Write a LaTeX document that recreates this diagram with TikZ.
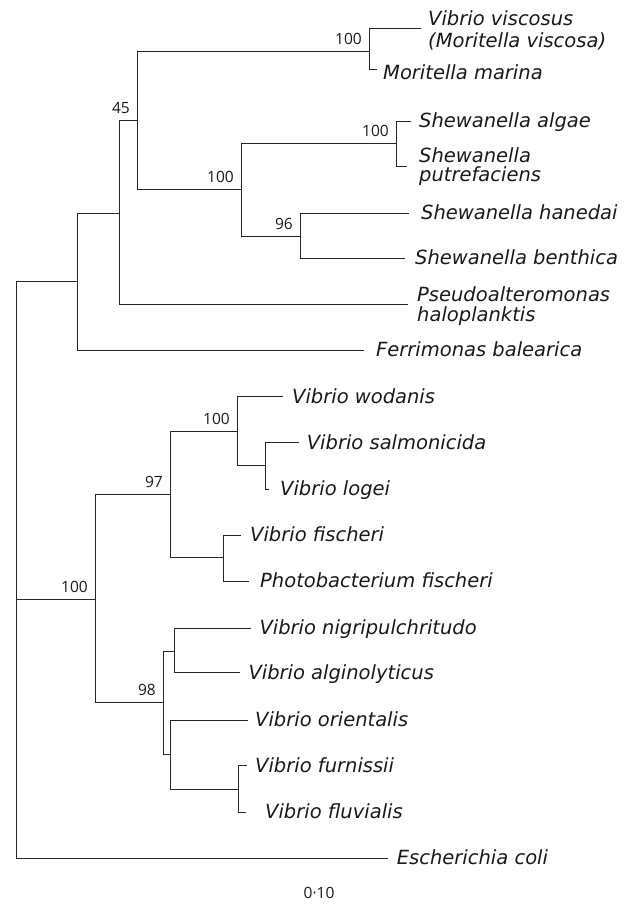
\documentclass[tikz,border=0pt]{standalone}
\usepackage{fontspec}
\setmainfont{Open Sans}
\newfontfamily\leaffont{DejaVu Sans}
\begin{document}
\begin{tikzpicture}[x=1pt,y=-1pt,
  branch/.style={line width=1.4pt, draw=black!85},
  leaf/.style={anchor=base west, inner sep=0pt, text=black!90, font=\leaffont\itshape\fontsize{19.5}{22}\selectfont},
  boot/.style={anchor=base east, inner sep=0pt, text=black!90, font=\fontsize{15.5}{18}\selectfont}]
\useasboundingbox (0,0) rectangle (636,904);
% internal nodes
\coordinate (R) at (16.5,599.5);
\coordinate (A) at (77.5,281.5);
\coordinate (B) at (119.5,213.5);
\coordinate (C) at (137.5,120.5);
\coordinate (D) at (369.5,51.5);
\coordinate (Sh) at (241.5,189.5);
\coordinate (Sa) at (396.5,143.5);
\coordinate (S96) at (300.5,236.5);
\coordinate (V) at (95.5,599.5);
\coordinate (V97) at (170.5,494.5);
\coordinate (W) at (237.5,431.5);
\coordinate (SL) at (265.5,465.5);
\coordinate (F) at (223.5,557.5);
\coordinate (V98) at (163.5,702.5);
\coordinate (N) at (174.5,651.5);
\coordinate (O) at (170.5,754.5);
\coordinate (FF) at (238.5,789.5);
% tips
\coordinate (tvis) at (420.5,28.5);
\coordinate (tmar) at (376.5,69.5);
\coordinate (talg) at (410.5,121.5);
\coordinate (tput) at (406.5,166.5);
\coordinate (than) at (408.5,213.5);
\coordinate (tben) at (404.5,258.5);
\coordinate (tpse) at (407.5,304.5);
\coordinate (tfer) at (363.5,350.5);
\coordinate (twod) at (282.5,396.5);
\coordinate (tsal) at (298.5,442.5);
\coordinate (tlog) at (268.5,489.5);
\coordinate (tfis) at (240.5,535.5);
\coordinate (tpho) at (248.5,581.5);
\coordinate (tnig) at (250.5,628.5);
\coordinate (talgi) at (239.5,672.5);
\coordinate (tori) at (247.5,720.5);
\coordinate (tfur) at (246.5,765.5);
\coordinate (tflu) at (245.5,812.5);
\coordinate (tcol) at (387.5,858.5);
% branches
\foreach \p/\c in {R/A,R/V,R/tcol,A/B,A/tfer,B/C,B/tpse,C/D,C/Sh,D/tvis,D/tmar,
  Sh/Sa,Sh/S96,Sa/talg,Sa/tput,S96/than,S96/tben,V/V97,V/V98,V97/W,V97/F,
  W/twod,W/SL,SL/tsal,SL/tlog,F/tfis,F/tpho,V98/N,V98/O,N/tnig,N/talgi,
  O/tori,O/FF,FF/tfur,FF/tflu}
  \draw[branch] (\p) |- (\c);
% leaf labels
\node[leaf] (Lvis1) at (428,26) {Vibrio viscosus};
\node[leaf] (Lvis2) at (428,47.7) {(Moritella viscosa)};
\node[leaf] (Lmar) at (383,79.3) {Moritella marina};
\node[leaf] (Lalg) at (419,127.5) {Shewanella algae};
\node[leaf] (Lput1) at (419,162.7) {Shewanella};
\node[leaf] (Lput2) at (419,182) {putrefaciens};
\node[leaf] (Lhan) at (421,219.5) {Shewanella hanedai};
\node[leaf] (Lben) at (415,264.5) {Shewanella benthica};
\node[leaf] (Lpse1) at (417,301.5) {Pseudoalteromonas};
\node[leaf] (Lpse2) at (417,321.5) {haloplanktis};
\node[leaf] (Lfer) at (376,356.5) {Ferrimonas balearica};
\node[leaf] (Lwod) at (292,403.2) {Vibrio wodanis};
\node[leaf] (Lsal) at (306.7,449.2) {Vibrio salmonicida};
\node[leaf] (Llog) at (280,495.8) {Vibrio logei};
\node[leaf] (Lfis) at (250,541.8) {Vibrio fischeri};
\node[leaf] (Lpho) at (260,587.5) {Photobacterium fischeri};
\node[leaf] (Lnig) at (259.3,634.8) {Vibrio nigripulchritudo};
\node[leaf] (Lalgi) at (248.3,679.2) {Vibrio alginolyticus};
\node[leaf] (Lori) at (255,726.5) {Vibrio orientalis};
\node[leaf] (Lfur) at (255,772.2) {Vibrio furnissii};
\node[leaf] (Lflu) at (265,818.8) {Vibrio fluvialis};
\node[leaf] (Lcol) at (396.7,864.5) {Escherichia coli};
% bootstrap values
\foreach \n/\v in {C/45,D/100,Sh/100,Sa/100,S96/96,V/100,V97/97,W/100,V98/98}
  \node[boot] (b\n) at ([shift={(-7.5,-7)}]\n) {\v};
% scale
\node[boot, anchor=base] (scale) at (319,898) {0·10};
\end{tikzpicture}
\end{document}
